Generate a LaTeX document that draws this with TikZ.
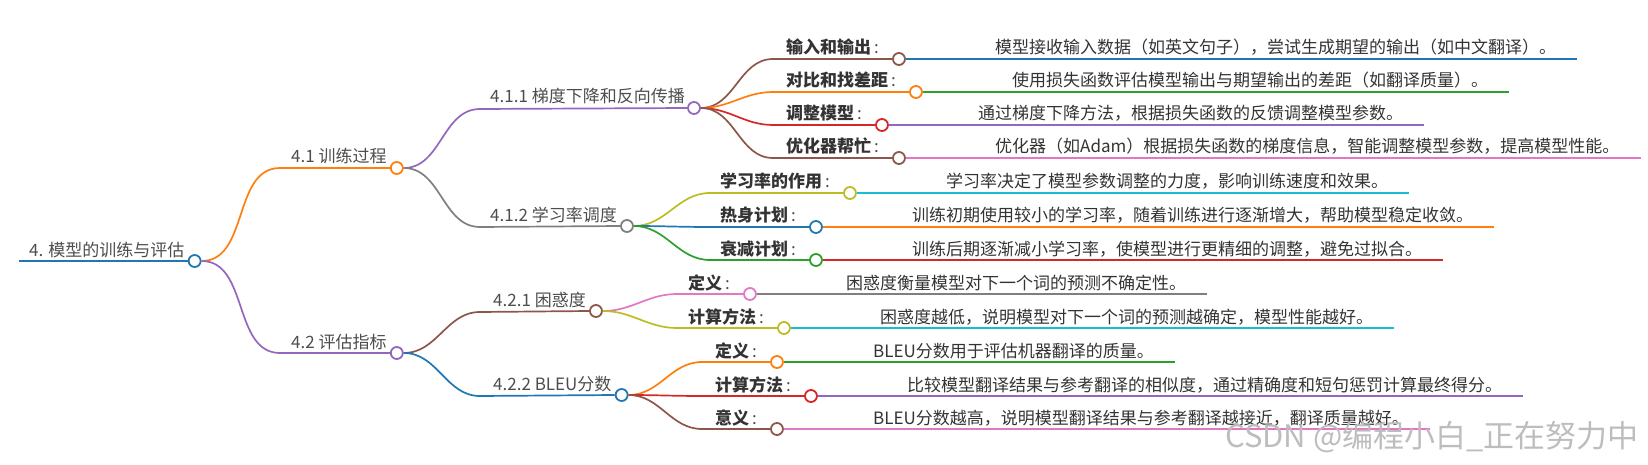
\documentclass[tikz,border=0pt]{standalone}
\usepackage{fontspec}
\setmainfont{Noto Sans CJK SC}
\usetikzlibrary{positioning}

\definecolor{cblue}{HTML}{1F77B4}
\definecolor{corange}{HTML}{FF7F0E}
\definecolor{cgreen}{HTML}{2CA02C}
\definecolor{cred}{HTML}{D62728}
\definecolor{cpurple}{HTML}{9467BD}
\definecolor{cbrown}{HTML}{8C564B}
\definecolor{cpink}{HTML}{E377C2}
\definecolor{cgray}{HTML}{7F7F7F}
\definecolor{colive}{HTML}{BCBD22}
\definecolor{ccyan}{HTML}{17BECF}
\definecolor{txtdark}{HTML}{333333}
\definecolor{txtgray}{HTML}{4D4D4D}
\definecolor{wmgray}{HTML}{BDBDBD}

\newcommand{\keycolon}{{\mdseries\color{txtgray}\,:}}

\tikzset{
  knob/.style={circle,draw=#1,fill=white,line width=1.8pt,minimum size=12pt,inner sep=0pt},
  tnode/.style={anchor=base west,inner sep=0pt,text=txtgray,font=\fontsize{17pt}{20pt}\selectfont},
  lnode/.style={tnode,text=txtdark,font=\fontsize{17pt}{20pt}\selectfont\bfseries},
  dnode/.style={tnode,text=txtdark},
  link/.style={line width=1.7pt},
}

\begin{document}
\begin{tikzpicture}[x=1pt,y=-1pt]
    \useasboundingbox (0,0) rectangle (1648,465);
    %% root
    \node[tnode] (t0) at (29,256) {4. 模型的训练与评估};
    \node[knob=cblue] (k0) at ([xshift=10pt,yshift=-5pt]t0.base east) {};
    \coordinate (s0) at (19,261);
    \draw[cblue,line width=2.8pt] (s0) -- (k0.west);
    %% level 1
    \node[tnode] (t41) at (291,163) {4.1 训练过程};
    \node[knob=corange] (k41) at ([xshift=10pt,yshift=-5pt]t41.base east) {};
    \coordinate (s41) at (280,168);
    \draw[link,corange] (k0.east) to[out=0,in=180] (s41) -- (k41.west);
    \node[tnode] (t42) at (291,348) {4.2 评估指标};
    \node[knob=cpurple] (k42) at ([xshift=10pt,yshift=-5pt]t42.base east) {};
    \coordinate (s42) at (280,353);
    \draw[link,cpurple] (k0.east) to[out=0,in=180] (s42) -- (k42.west);
    %% level 2
    \node[tnode] (t411) at (490,103) {4.1.1 梯度下降和反向传播};
    \node[knob=cpurple] (k411) at ([xshift=9pt,yshift=-5pt]t411.base east) {};
    \coordinate (s411) at (480,109);
    \draw[link,cpurple] (k41.east) to[out=0,in=180] (s411) -- (k411.west);
    \node[tnode] (t412) at (490,221) {4.1.2 学习率调度};
    \node[knob=cgray] (k412) at ([xshift=10pt,yshift=-5pt]t412.base east) {};
    \coordinate (s412) at (480,227);
    \draw[link,cgray] (k41.east) to[out=0,in=180] (s412) -- (k412.west);
    \node[tnode] (t421) at (493,306) {4.2.1 困惑度};
    \node[knob=cbrown] (k421) at ([xshift=10pt,yshift=-5pt]t421.base east) {};
    \coordinate (s421) at (480,312);
    \draw[link,cbrown] (k42.east) to[out=0,in=180] (s421) -- (k421.west);
    \node[tnode] (t422) at (493,390) {4.2.2 BLEU分数};
    \node[knob=cblue] (k422) at ([xshift=10pt,yshift=-5pt]t422.base east) {};
    \coordinate (s422) at (480,396);
    \draw[link,cblue] (k42.east) to[out=0,in=180] (s422) -- (k422.west);

    %% leaves of 4.1.1
    \node[lnode] (tio) at (786,54) {输入和输出\keycolon};
    \node[knob=cbrown] (kio) at ([xshift=20pt,yshift=-5pt]tio.base east) {};
    \coordinate (sio) at (773,59);
    \draw[link,cbrown] (k411.east) to[out=0,in=180] (sio) -- (kio.west);
    \node[dnode] (dio) at ([xshift=96pt,yshift=5pt]kio.center) {模型接收输入数据（如英文句子），尝试生成期望的输出（如中文翻译）。};
    \draw[link,cblue] (kio.east) -- (kio.east -| dio.east) -- ++(21,0);

    \node[lnode] (tcmp) at (786,87) {对比和找差距\keycolon};
    \node[knob=corange] (kcmp) at ([xshift=20pt,yshift=-5pt]tcmp.base east) {};
    \coordinate (scmp) at (773,92);
    \draw[link,corange] (k411.east) to[out=0,in=180] (scmp) -- (kcmp.west);
    \node[dnode] (dcmp) at ([xshift=96pt,yshift=5pt]kcmp.center) {使用损失函数评估模型输出与期望输出的差距（如翻译质量）。};
    \draw[link,cgreen] (kcmp.east) -- (kcmp.east -| dcmp.east) -- ++(21,0);

    \node[lnode] (tadj) at (786,120) {调整模型\keycolon};
    \node[knob=cred] (kadj) at ([xshift=20pt,yshift=-5pt]tadj.base east) {};
    \coordinate (sadj) at (773,125);
    \draw[link,cred] (k411.east) to[out=0,in=180] (sadj) -- (kadj.west);
    \node[dnode] (dadj) at ([xshift=96pt,yshift=5pt]kadj.center) {通过梯度下降方法，根据损失函数的反馈调整模型参数。};
    \draw[link,cpurple] (kadj.east) -- (kadj.east -| dadj.east) -- ++(21,0);

    \node[lnode] (topt) at (786,153) {优化器帮忙\keycolon};
    \node[knob=cbrown] (kopt) at ([xshift=20pt,yshift=-5pt]topt.base east) {};
    \coordinate (sopt) at (773,158);
    \draw[link,cbrown] (k411.east) to[out=0,in=180] (sopt) -- (kopt.west);
    \node[dnode] (dopt) at ([xshift=96pt,yshift=5pt]kopt.center) {优化器（如Adam）根据损失函数的梯度信息，智能调整模型参数，提高模型性能。};
    \draw[link,cpink] (kopt.east) -- (kopt.east -| dopt.east) -- ++(21,0);

    %% leaves of 4.1.2
    \node[lnode] (tlr) at (720,188) {学习率的作用\keycolon};
    \node[knob=colive] (klr) at ([xshift=20pt,yshift=-5pt]tlr.base east) {};
    \coordinate (slr) at (710,193);
    \draw[link,colive] (k412.east) to[out=0,in=180] (slr) -- (klr.west);
    \node[dnode] (dlr) at ([xshift=96pt,yshift=5pt]klr.center) {学习率决定了模型参数调整的力度，影响训练速度和效果。};
    \draw[link,ccyan] (klr.east) -- (klr.east -| dlr.east) -- ++(21,0);

    \node[lnode] (twarm) at (720,222) {热身计划\keycolon};
    \node[knob=cblue] (kwarm) at ([xshift=20pt,yshift=-5pt]twarm.base east) {};
    \coordinate (swarm) at (710,227);
    \draw[link,cblue] (k412.east) to[out=0,in=180] (swarm) -- (kwarm.west);
    \node[dnode] (dwarm) at ([xshift=96pt,yshift=5pt]kwarm.center) {训练初期使用较小的学习率，随着训练进行逐渐增大，帮助模型稳定收敛。};
    \draw[link,corange] (kwarm.east) -- (kwarm.east -| dwarm.east) -- ++(21,0);

    \node[lnode] (tdec) at (720,255) {衰减计划\keycolon};
    \node[knob=cgreen] (kdec) at ([xshift=20pt,yshift=-5pt]tdec.base east) {};
    \coordinate (sdec) at (710,260);
    \draw[link,cgreen] (k412.east) to[out=0,in=180] (sdec) -- (kdec.west);
    \node[dnode] (ddec) at ([xshift=96pt,yshift=5pt]kdec.center) {训练后期逐渐减小学习率，使模型进行更精细的调整，避免过拟合。};
    \draw[link,cred] (kdec.east) -- (kdec.east -| ddec.east) -- ++(21,0);

    %% leaves of 4.2.1
    \node[lnode] (tpdef) at (688,289) {定义\keycolon};
    \node[knob=cpink] (kpdef) at ([xshift=20pt,yshift=-5pt]tpdef.base east) {};
    \coordinate (spdef) at (677,294);
    \draw[link,cpink] (k421.east) to[out=0,in=180] (spdef) -- (kpdef.west);
    \node[dnode] (dpdef) at ([xshift=96pt,yshift=5pt]kpdef.center) {困惑度衡量模型对下一个词的预测不确定性。};
    \draw[link,cgray] (kpdef.east) -- (kpdef.east -| dpdef.east) -- ++(21,0);

    \node[lnode] (tpcal) at (688,323) {计算方法\keycolon};
    \node[knob=colive] (kpcal) at ([xshift=20pt,yshift=-5pt]tpcal.base east) {};
    \coordinate (spcal) at (677,328);
    \draw[link,colive] (k421.east) to[out=0,in=180] (spcal) -- (kpcal.west);
    \node[dnode] (dpcal) at ([xshift=96pt,yshift=5pt]kpcal.center) {困惑度越低，说明模型对下一个词的预测越确定，模型性能越好。};
    \draw[link,ccyan] (kpcal.east) -- (kpcal.east -| dpcal.east) -- ++(21,0);

    %% leaves of 4.2.2
    \node[lnode] (tbdef) at (715,357) {定义\keycolon};
    \node[knob=corange] (kbdef) at ([xshift=20pt,yshift=-5pt]tbdef.base east) {};
    \coordinate (sbdef) at (702,362);
    \draw[link,corange] (k422.east) to[out=0,in=180] (sbdef) -- (kbdef.west);
    \node[dnode] (dbdef) at ([xshift=96pt,yshift=5pt]kbdef.center) {BLEU分数用于评估机器翻译的质量。};
    \draw[link,cgreen] (kbdef.east) -- (kbdef.east -| dbdef.east) -- ++(21,0);

    \node[lnode] (tbcal) at (715,391) {计算方法\keycolon};
    \node[knob=cred] (kbcal) at ([xshift=20pt,yshift=-5pt]tbcal.base east) {};
    \coordinate (sbcal) at (702,396);
    \draw[link,cred] (k422.east) to[out=0,in=180] (sbcal) -- (kbcal.west);
    \node[dnode] (dbcal) at ([xshift=96pt,yshift=5pt]kbcal.center) {比较模型翻译结果与参考翻译的相似度，通过精确度和短句惩罚计算最终得分。};
    \draw[link,cpurple] (kbcal.east) -- (kbcal.east -| dbcal.east) -- ++(21,0);

    \node[lnode] (tbmn) at (715,424) {意义\keycolon};
    \node[knob=cbrown] (kbmn) at ([xshift=20pt,yshift=-5pt]tbmn.base east) {};
    \coordinate (sbmn) at (702,429);
    \draw[link,cbrown] (k422.east) to[out=0,in=180] (sbmn) -- (kbmn.west);
    \node[dnode] (dbmn) at ([xshift=96pt,yshift=5pt]kbmn.center) {BLEU分数越高，说明模型翻译结果与参考翻译越接近，翻译质量越好。};
    \draw[link,cpink] (kbmn.east) -- (kbmn.east -| dbmn.east) -- ++(21,0);

    %% watermark
    \node[anchor=base west,inner sep=0pt,text=wmgray,font=\fontsize{31pt}{33pt}\selectfont] (wm) at (1225,447) {CSDN @编程小白\_正在努力中};
\end{tikzpicture}
\end{document}
